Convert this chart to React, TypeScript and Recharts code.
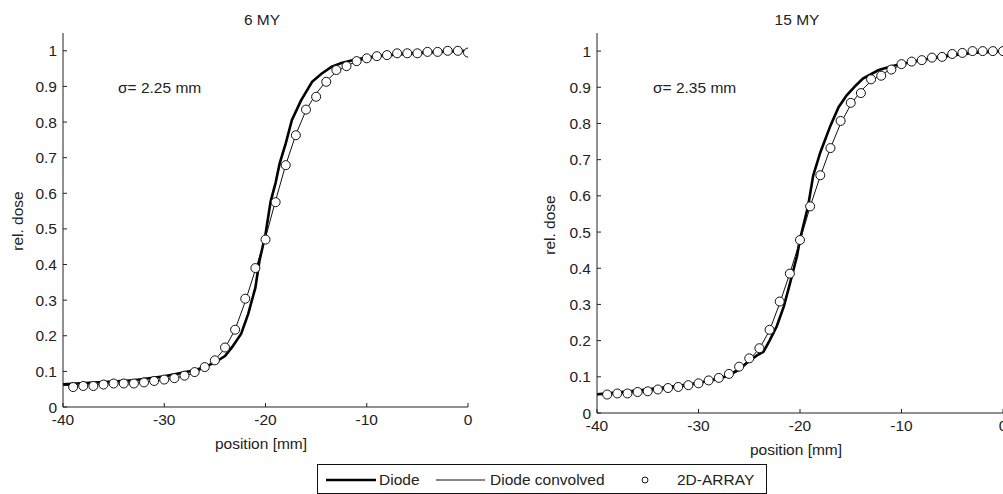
import { ComposedChart, Line, Scatter, XAxis, YAxis } from 'recharts';

const xTicks = [-40, -30, -20, -10, 0];
const yTicks = [0, 0.1, 0.2, 0.3, 0.4, 0.5, 0.6, 0.7, 0.8, 0.9, 1];

// 2D-ARRAY detector positions (mm)
const arrayPos = [
  -39, -38, -37, -36, -35, -34, -33, -32, -31, -30, -29, -28, -27, -26, -25, -24, -23, -22, -21, -20,
  -19, -18, -17, -16, -15, -14, -13, -12, -11, -10, -9, -8, -7, -6, -5, -4, -3, -2, -1, 0,
];
const convPos = [
  -40, -39, -38, -37, -36, -35, -34, -33, -32, -31, -30, -29, -28, -27, -26, -25, -24, -23, -22, -21, -20,
  -19, -18, -17, -16, -15, -14, -13, -12, -11, -10, -9, -8, -7, -6, -5, -4, -3, -2, -1, 0,
];

// 6 MV
const diodePos6 = [
  -40, -36, -33, -30, -27, -26, -25, -24, -23.3, -22.4, -21.7, -21, -20.6, -20, -19.5,
  -19, -18.6, -18, -17.4, -16.5, -15.4, -14.5, -13.5, -12.5, -11, -9, -6, -3, 0,
];
const diode6 = [
  0.064, 0.07, 0.075, 0.086, 0.103, 0.112, 0.125, 0.143, 0.168, 0.206, 0.262, 0.335, 0.41, 0.485, 0.576,
  0.63, 0.684, 0.74, 0.805, 0.86, 0.913, 0.935, 0.955, 0.966, 0.976, 0.985, 0.992, 0.997, 1.0,
];
const conv6 = [
  0.06, 0.061, 0.062, 0.063, 0.064, 0.066, 0.067, 0.068, 0.07, 0.073, 0.076, 0.081, 0.087, 0.096, 0.11,
  0.132, 0.165, 0.218, 0.296, 0.385, 0.475, 0.58, 0.68, 0.765, 0.833, 0.88, 0.915, 0.941, 0.958, 0.97,
  0.978, 0.984, 0.988, 0.991, 0.993, 0.995, 0.997, 0.998, 0.999, 0.999, 1.0,
];
const array6 = [
  0.056, 0.059, 0.059, 0.063, 0.066, 0.066, 0.066, 0.069, 0.073, 0.077, 0.081, 0.088, 0.098, 0.112, 0.131,
  0.167, 0.217, 0.304, 0.39, 0.47, 0.575, 0.679, 0.763, 0.835, 0.871, 0.913, 0.946, 0.957, 0.971, 0.979,
  0.985, 0.988, 0.993, 0.993, 0.993, 0.997, 0.997, 1.0, 1.0, 0.995,
];

// 15 MV
const diodePos15 = [
  -40, -36, -32, -30, -28, -27, -26, -25, -24.2, -23.6, -23, -22.3, -21.6, -21, -20.3, -20,
  -19.2, -18.7, -18, -17, -16.2, -15.4, -14.5, -13.8, -12.3, -11, -9, -7, -5, -3, 0,
];
const diode15 = [
  0.052, 0.062, 0.075, 0.083, 0.095, 0.104, 0.12, 0.144, 0.16, 0.169, 0.2, 0.239, 0.294, 0.357, 0.433, 0.48,
  0.572, 0.656, 0.72, 0.794, 0.845, 0.878, 0.905, 0.924, 0.947, 0.958, 0.97, 0.98, 0.988, 0.995, 1.0,
];
const conv15 = [
  0.05, 0.051, 0.053, 0.055, 0.057, 0.06, 0.063, 0.067, 0.071, 0.076, 0.081, 0.088, 0.096, 0.107, 0.124,
  0.147, 0.178, 0.228, 0.303, 0.386, 0.476, 0.57, 0.655, 0.732, 0.8, 0.852, 0.89, 0.917, 0.935, 0.95,
  0.961, 0.97, 0.977, 0.983, 0.988, 0.992, 0.995, 0.997, 0.999, 1.0, 1.0,
];
const array15 = [
  0.051, 0.054, 0.054, 0.058, 0.06, 0.065, 0.069, 0.072, 0.077, 0.082, 0.09, 0.097, 0.108, 0.128, 0.151,
  0.179, 0.23, 0.308, 0.385, 0.478, 0.571, 0.657, 0.732, 0.807, 0.857, 0.884, 0.922, 0.932, 0.949, 0.964,
  0.971, 0.975, 0.982, 0.984, 0.992, 0.995, 1.0, 1.0, 1.0, 1.0,
];

const FONT = '"Liberation Sans", Arial, sans-serif';
const FS = 15.5;

const pts = (xs: number[], ys: number[]) => xs.map((x, i) => ({ x, y: ys[i] }));
const fmt = (v: number) => String(Math.round(v * 10) / 10);

const Ring = (p: any) =>
  p.cx == null ? null : <circle cx={p.cx} cy={p.cy} r={4.5} fill="#fff" stroke="#111" strokeWidth={1} />;

interface PanelProps {
  diode: { x: number; y: number }[];
  conv: { x: number; y: number }[];
  array: { x: number; y: number }[];
  width: number;
  yAxisWidth: number;
  right: number;
  bottom: number;
}

const Panel = ({ diode, conv, array, width, yAxisWidth, right, bottom }: PanelProps) => (
  <ComposedChart width={width} height={460} margin={{ top: 33, right, bottom, left: 0 }} style={{ fontFamily: FONT }}>
    <XAxis
      type="number"
      dataKey="x"
      domain={[-40, 0]}
      ticks={xTicks}
      interval={0}
      allowDataOverflow
      tickSize={-4}
      tickMargin={11}
      height={30}
      stroke="#222"
      tick={{ fill: '#222', fontSize: FS }}
    />
    <XAxis
      xAxisId="top"
      orientation="top"
      type="number"
      dataKey="x"
      domain={[-40, 0]}
      ticks={xTicks}
      interval={0}
      tick={false}
      tickSize={-4}
      height={0}
      stroke="#222"
    />
    <YAxis
      type="number"
      dataKey="y"
      domain={[0, 1.05]}
      ticks={yTicks}
      interval={0}
      allowDataOverflow
      tickSize={-4}
      tickMargin={10}
      width={yAxisWidth}
      tickFormatter={fmt}
      stroke="#222"
      tick={{ fill: '#222', fontSize: FS }}
    />
    <YAxis
      yAxisId="right"
      orientation="right"
      type="number"
      domain={[0, 1.05]}
      ticks={yTicks}
      interval={0}
      tick={false}
      tickSize={-4}
      width={0}
      stroke="#222"
    />
    <Line xAxisId="top" yAxisId="right" data={diode} dataKey="y" stroke="none" dot={false} isAnimationActive={false} />
    <Line data={diode} dataKey="y" type="linear" stroke="#000" strokeWidth={2.6} dot={false} isAnimationActive={false} />
    <Line data={conv} dataKey="y" type="linear" stroke="#111" strokeWidth={1} dot={false} isAnimationActive={false} />
    <Scatter data={array} dataKey="y" shape={Ring} isAnimationActive={false} />
  </ComposedChart>
);

export default function App() {
  return (
    <div style={{ position: 'absolute', left: 0, top: 0, width: 1003, height: 494, background: '#fff', overflow: 'hidden', fontFamily: FONT }}>
      <div style={{ position: 'absolute', left: 0, top: 0 }}>
        <Panel diode={pts(diodePos6, diode6)} conv={pts(convPos, conv6)} array={pts(arrayPos, array6)} width={480} yAxisWidth={63} right={12} bottom={23} />
      </div>
      <div style={{ position: 'absolute', left: 520, top: 0 }}>
        <Panel diode={pts(diodePos15, diode15)} conv={pts(convPos, conv15)} array={pts(arrayPos, array15)} width={483} yAxisWidth={77} right={0} bottom={17} />
      </div>
      <svg width={1003} height={494} style={{ position: 'absolute', left: 0, top: 0, pointerEvents: 'none' }} fontFamily={FONT} fontSize={FS} fill="#222">
        <text x={262} y={25} textAnchor="middle">6 MY</text>
        <text x={797} y={25} textAnchor="middle">15 MY</text>
        <text x={118} y={93}>σ= 2.25 mm</text>
        <text x={653} y={93}>σ= 2.35 mm</text>
        <text x={261} y={449} textAnchor="middle">position [mm]</text>
        <text x={796} y={455} textAnchor="middle">position [mm]</text>
        <text x={23} y={221} textAnchor="middle" transform="rotate(-90 23 221)">rel. dose</text>
        <text x={555} y={225} textAnchor="middle" transform="rotate(-90 555 225)">rel. dose</text>
        <rect x={317.5} y={464.5} width={449} height={29} fill="#fff" stroke="#111" strokeWidth={1} />
        <line x1={326} x2={376} y1={480} y2={480} stroke="#000" strokeWidth={2.6} />
        <text x={379} y={485}>Diode</text>
        <line x1={436} x2={485} y1={480} y2={480} stroke="#111" strokeWidth={1} />
        <text x={490} y={485}>Diode convolved</text>
        <circle cx={645} cy={480} r={3} fill="#fff" stroke="#111" />
        <text x={677} y={485}>2D-ARRAY</text>
      </svg>
    </div>
  );
}
